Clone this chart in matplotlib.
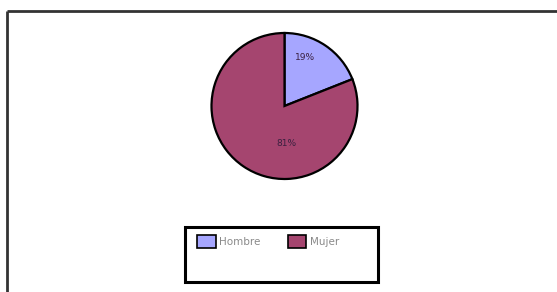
import matplotlib
matplotlib.use("Agg")
import matplotlib.pyplot as plt
from matplotlib.patches import Rectangle, Patch

# pie data
labels = ["Hombre", "Mujer"]
values = [19, 81]
colors = ["#a6a6ff", "#a5456f"]

W, H = 557, 292
fig = plt.figure(figsize=(W / 100, H / 100), dpi=100)
ax = fig.add_axes([0, 0, 1, 1])
ax.set_xlim(0, W)
ax.set_ylim(0, H)
ax.set_aspect("equal")
ax.axis("off")

# outer chart frame (runs off the right and bottom edges)
ax.plot([7, W + 5], [H - 11, H - 11], color="#333333", lw=2, solid_capstyle="butt")
ax.plot([7, 7], [H - 11, -5], color="#333333", lw=2, solid_capstyle="butt")

wedges, texts, autotexts = ax.pie(
    values, colors=colors, startangle=90, counterclock=False,
    center=(284.5, H - 106), radius=73, autopct="%d%%", pctdistance=0.6,
    wedgeprops=dict(edgecolor="black", linewidth=1.6),
    textprops=dict(fontsize=6.5, color="#3a2040"),
)
ax.set_xlim(0, W)
ax.set_ylim(0, H)
# Excel puts the labels a bit differently
autotexts[0].set_position((305, H - 57))
autotexts[1].set_position((286, H - 143))

# legend box
ax.add_patch(Rectangle((185, H - 282), 193, 55, facecolor="white",
                       edgecolor="black", lw=2.2, zorder=3))
handles = [Patch(facecolor=c, edgecolor="black", lw=1.2) for c in colors]
leg = ax.legend(handles, labels, ncol=2, frameon=False, fontsize=7.5,
                loc="upper left", bbox_to_anchor=(189 / W, 1 - 227 / H),
                handlelength=1.8, handleheight=1.5, handletextpad=0.3,
                columnspacing=2.6, labelcolor="#8a8a8a",
                borderpad=0.3)
leg.set_zorder(4)

fig.savefig("out.png", dpi=100)
